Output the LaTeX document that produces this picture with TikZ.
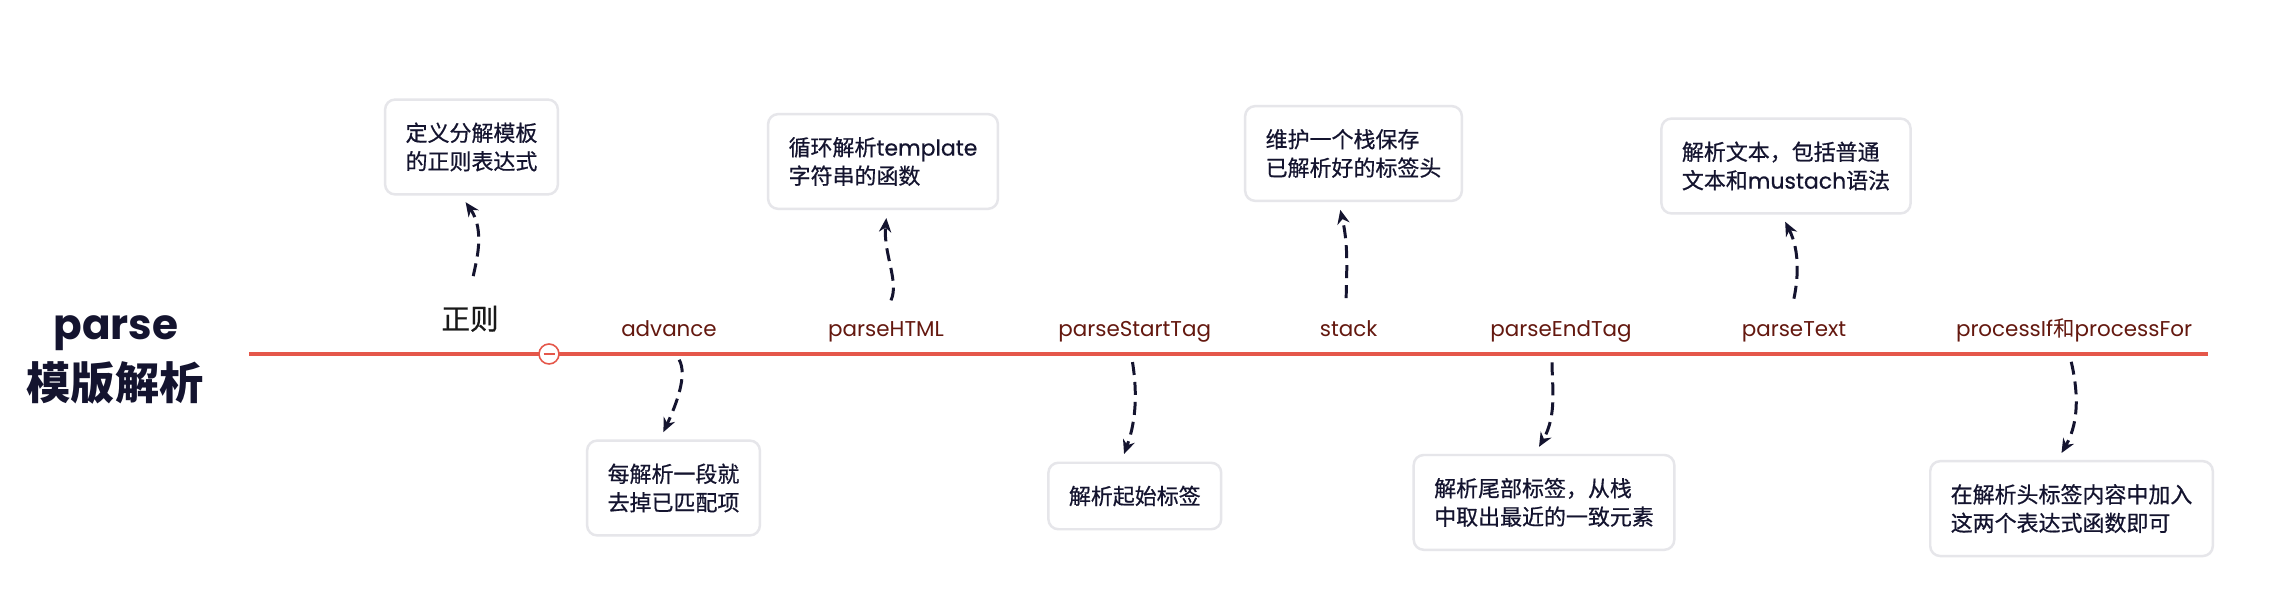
\documentclass[tikz,border=0pt]{standalone}
\usepackage{fontspec}
\setmainfont{Poppins}
\newfontfamily\cjk{Noto Sans CJK SC}
\newfontfamily\cjkmed[FakeBold=0.6]{Noto Sans CJK SC}
\newfontfamily\latinmed[FakeBold=0.6]{Poppins}
\usepackage{tikz}
\usetikzlibrary{arrows.meta}
\definecolor{linered}{HTML}{E5574A}
\definecolor{labelred}{HTML}{64180F}
\definecolor{inkblue}{HTML}{14142F}
\definecolor{boxgray}{HTML}{E6E6EA}

\begin{document}
\begin{tikzpicture}[x=0.02cm, y=0.02cm, >={Stealth[length=8pt,width=7pt]},
    fn/.style={text=labelred, font=\fontsize{12.2}{14}\selectfont, anchor=base, inner sep=0pt, text height=0.3cm, text depth=0.08cm},
    note/.style={draw=boxgray, line width=1.4pt, rounded corners=0.2cm, fill=white, text=inkblue, align=left,
        inner xsep=0.41cm, inner ysep=0.46cm, font=\cjkmed\fontsize{12.5}{16.2}\selectfont},
    link/.style={->, draw=inkblue, line width=1.7pt, dash pattern=on 0.26cm off 0.14cm, shorten <=0.42cm, shorten >=0.16cm}]
        \useasboundingbox (0,0) rectangle (2294,608);
        \fill[white] (0,0) rectangle (2294,608);

        \node[font=\bfseries\fontsize{24}{28}\selectfont, text=inkblue, anchor=base] (parse) at (116,268) {parse};
        \node[font=\cjk\bfseries\fontsize{25.2}{30}\selectfont, text=inkblue] (title) at (115,225.5) {模版解析};

        \coordinate (L) at (249,254);
        \coordinate (R) at (2208,254);
        \draw[linered, line width=1.9pt] (L) -- (R);
        \node[circle, draw=linered, fill=white, line width=0.9pt, minimum size=0.4cm, inner sep=0pt] (fold) at (549,254) {};
        \draw[linered, line width=0.8pt] ([xshift=-0.11cm]fold.center) -- ([xshift=0.11cm]fold.center);

        \node[font=\cjkmed\fontsize{16.3}{20}\selectfont, text=black!90, anchor=base, inner sep=0pt, text height=0.46cm, text depth=0.06cm] (zhengze) at (470,278.5) {正则};
        \node[fn] (advance) at (669,271) {advance};
        \node[fn] (html) at (886,271) {parseHTML};
        \node[fn] (starttag) at (1134.7,271) {parseStartTag};
        \node[fn] (stack) at (1348.7,271) {stack};
        \node[fn] (endtag) at (1561,271) {parseEndTag};
        \node[fn] (text) at (1794,271) {parseText};
        \node[fn] (process) at (2074,271) {processIf{\cjk 和}processFor};

        \node[note] (regex) at (471.5,461) {定义分解模板\\的正则表达式};
        \node[note] (cut) at (673.5,120) {每解析一段就\\去掉已匹配项};
        \node[note] (loop) at (883,446.5) {循环解析{\latinmed template}\\字符串的函数};
        \node[note] (start) at (1134.8,112) {解析起始标签};
        \node[note] (keep) at (1353.5,454.5) {维护一个栈保存\\已解析好的标签头};
        \node[note] (pop) at (1544,105.6) {解析尾部标签，从栈\\中取出最近的一致元素};
        \node[note] (mustache) at (1786,442) {解析文本，包括普通\\文本和{\latinmed mustach}语法};
        \node[note] (attrs) at (2071.5,99.4) {在解析头标签内容中加入\\这两个表达式函数即可};

        \draw[link, shorten <=0.61cm] ([xshift=-0.04cm]zhengze.north) to[out=80, in=-55] ([xshift=-0.21cm]regex.south);
        \draw[link] (advance.south) to[out=-61, in=65] ([xshift=-0.27cm]cut.north);
        \draw[link, shorten <=0.47cm] ([xshift=-0.1cm]html.north) to[out=65, in=-95] ([xshift=0.08cm]loop.south);
        \draw[link] ([xshift=-0.11cm]starttag.south) to[out=-81, in=70] ([xshift=-0.27cm]start.north);
        \draw[link, shorten <=0.47cm] ([xshift=-0.05cm]stack.north) to[out=90, in=-77] ([xshift=-0.3cm]keep.south);
        \draw[link] ([xshift=-0.18cm]endtag.south) to[out=-90, in=60] ([xshift=-0.18cm]pop.north);
        \draw[link, shorten <=0.47cm] ([xshift=-0.1cm]text.north) to[out=78, in=-63] ([xshift=-0.09cm]mustache.south);
        \draw[link] ([xshift=-0.15cm]process.south) to[out=-77, in=60] ([xshift=-0.28cm]attrs.north);
    \end{tikzpicture}
\end{document}
